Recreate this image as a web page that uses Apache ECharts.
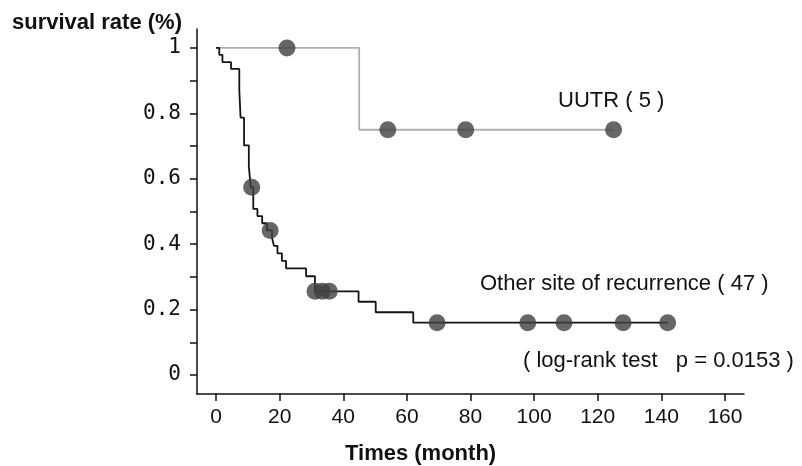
<!DOCTYPE html>
<html>
<head>
<meta charset="utf-8">
<script src="https://cdn.jsdelivr.net/npm/echarts@6/dist/echarts.min.js"></script>
<style>
  html, body { margin: 0; padding: 0; background: #fff; }
  #main { width: 802px; height: 466px; }
</style>
</head>
<body>
<div id="main"></div>
<script>
// Kaplan-Meier steps (time in months, survival rate)
var otherTimes = [0, 1, 2, 4.7, 7.3, 7.7, 8.8, 10.3, 10.9, 11.7, 13, 14.5, 16, 17.6, 18.2, 19.3, 20.7, 22, 28.3, 31.1, 44.8, 50.2, 62, 142];
var otherSurv = [1, 0.979, 0.957, 0.936, 0.872, 0.787, 0.702, 0.638, 0.574, 0.508, 0.486, 0.464, 0.442, 0.419, 0.395, 0.372, 0.349, 0.326, 0.302, 0.256, 0.224, 0.192, 0.16, 0.16];
var otherCensorTimes = [11.2, 17, 31.1, 33.4, 35.6, 69.5, 98, 109.4, 128, 142];
var otherCensorSurv = [0.574, 0.442, 0.256, 0.256, 0.256, 0.16, 0.16, 0.16, 0.16, 0.16];

var uutrTimes = [0, 45, 125];
var uutrSurv = [1, 0.75, 0.75];
var uutrCensorTimes = [22.3, 54, 78.5, 125];
var uutrCensorSurv = [1, 0.75, 0.75, 0.75];

var xTicks = [0, 20, 40, 60, 80, 100, 120, 140, 160];
var yLabels = [0, 0.2, 0.4, 0.6, 0.8, 1];
var yTicks = [0, 0.1, 0.2, 0.3, 0.4, 0.5, 0.6, 0.7, 0.8, 0.9, 1];

function pairs(xs, ys) {
  var out = [];
  for (var i = 0; i < xs.length; i++) out.push([xs[i], ys[i]]);
  return out;
}

var textStyle = { fill: "#111", font: "22px 'Liberation Sans', Arial, sans-serif" };

var option = {
  animation: false,
  backgroundColor: "#fff",
  grid: { left: 197, right: 58, top: 29, bottom: 72, containLabel: false },
  xAxis: {
    type: "value",
    min: -6,
    max: 166,
    axisLine: { onZero: false, lineStyle: { color: "#111", width: 1.5 } },
    axisTick: { customValues: xTicks, length: 7, lineStyle: { color: "#111", width: 1.5 } },
    axisLabel: {
      customValues: xTicks,
      margin: 13,
      color: "#111",
      fontSize: 21,
      fontFamily: "'Liberation Sans Narrow', 'Liberation Sans', sans-serif"
    },
    splitLine: { show: false }
  },
  yAxis: {
    type: "value",
    min: -0.058,
    max: 1.058,
    axisLine: { onZero: false, lineStyle: { color: "#111", width: 1.5 } },
    axisTick: { customValues: yTicks, length: 7, lineStyle: { color: "#111", width: 1.5 } },
    axisLabel: {
      customValues: yLabels,
      margin: 16,
      color: "#111",
      fontSize: 21,
      fontFamily: "'DejaVu Sans Mono', monospace",
      formatter: function (v) { return v === 1 || v === 0 ? String(v) : v.toFixed(1); }
    },
    splitLine: { show: false }
  },
  graphic: [
    { type: "text", left: 12, top: 12, style: { text: "survival rate (%)", fill: "#111", font: "bold 22px 'Liberation Sans', Arial, sans-serif" } },
    { type: "text", left: 345, top: 443, style: { text: "Times (month)", fill: "#111", font: "bold 22px 'Liberation Sans', Arial, sans-serif" } },
    { type: "text", left: 558, top: 90, style: Object.assign({ text: "UUTR ( 5 )" }, textStyle) },
    { type: "text", left: 480, top: 273, style: Object.assign({ text: "Other site of recurrence ( 47 )" }, textStyle) },
    { type: "text", left: 523, top: 350, style: Object.assign({ text: "( log-rank test   p = 0.0153 )" }, textStyle) }
  ],
  series: [
    {
      name: "UUTR",
      type: "line",
      step: "end",
      data: pairs(uutrTimes, uutrSurv),
      showSymbol: false,
      lineStyle: { color: "#aeaeae", width: 1.8 },
      z: 2
    },
    {
      name: "Other site of recurrence",
      type: "line",
      step: "end",
      data: pairs(otherTimes, otherSurv),
      showSymbol: false,
      lineStyle: { color: "#151515", width: 1.8 },
      z: 3
    },
    {
      name: "UUTR censored",
      type: "scatter",
      data: pairs(uutrCensorTimes, uutrCensorSurv),
      symbolSize: 17,
      itemStyle: { color: "#404040" },
      z: 4
    },
    {
      name: "Other censored",
      type: "scatter",
      data: pairs(otherCensorTimes, otherCensorSurv),
      symbolSize: 17,
      itemStyle: { color: "#404040" },
      z: 4
    }
  ]
};

var myChart = echarts.init(document.getElementById("main"));
myChart.setOption(option);
</script>
</body>
</html>
